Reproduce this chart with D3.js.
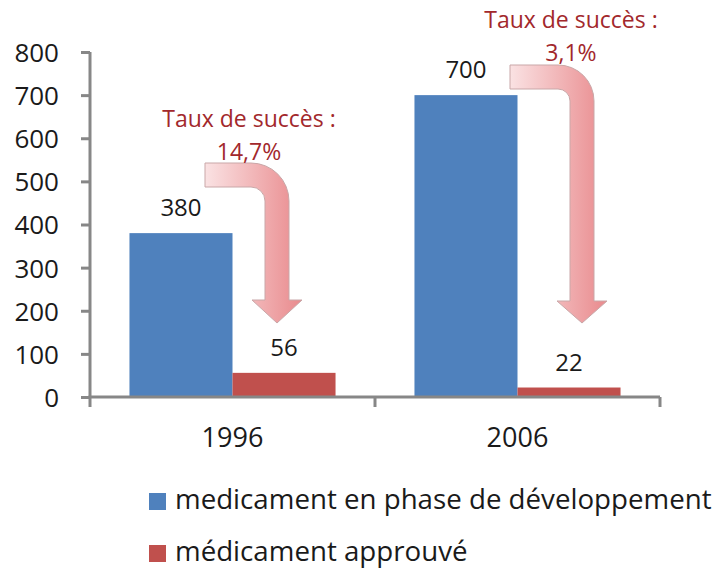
<!DOCTYPE html>
<html>
<head>
<meta charset="utf-8">
<script src="https://cdn.jsdelivr.net/npm/d3@7"></script>
<style>
  html, body { margin: 0; padding: 0; background: #fff; }
  svg { display: block; font-family: "Open Sans", "DejaVu Sans", sans-serif; }
</style>
</head>
<body>
<svg id="chart" width="716" height="569"></svg>
<script>
// Categories, series and values
const years = ["1996", "2006"];
const seriesNames = ["medicament en phase de développement", "médicament approuvé"];
const enDeveloppement = [380, 700];
const approuves = [56, 22];
const seriesColors = ["#4F81BD", "#C0504D"];
const yTicks = [0, 100, 200, 300, 400, 500, 600, 700, 800];
const tauxLabels = [["Taux de succès :", "14,7%"], ["Taux de succès :", "3,1%"]];

const svg = d3.select("#chart");

const x0 = d3.scaleBand().domain(years).range([90, 660]).paddingInner(0).paddingOuter(0);
const x1 = d3.scaleBand().domain([0, 1]).range([0, x0.bandwidth()]).paddingInner(0).paddingOuter(0.383);
const y = d3.scaleLinear().domain([0, 800]).range([397, 52]);

const rows = years.map((yr, i) => ({ year: yr, values: [enDeveloppement[i], approuves[i]] }));

// Bars
const groups = svg.append("g").selectAll("g").data(rows).join("g")
  .attr("transform", d => `translate(${x0(d.year)},0)`);

groups.selectAll("rect").data(d => d.values.map((v, k) => ({ v, k }))).join("rect")
  .attr("x", d => x1(d.k))
  .attr("y", d => y(d.v))
  .attr("width", x1.bandwidth())
  .attr("height", d => y(0) - y(d.v))
  .attr("fill", d => seriesColors[d.k]);

// Value labels
groups.selectAll("text.val").data(d => d.values.map((v, k) => ({ v, k }))).join("text")
  .attr("class", "val")
  .attr("x", d => x1(d.k) + x1.bandwidth() / 2)
  .attr("y", d => y(d.v) - 17)
  .attr("text-anchor", "middle")
  .attr("font-size", 24)
  .attr("fill", "#1a1a1a")
  .text(d => d.v);

// Y axis
const yAxis = svg.append("g")
  .attr("transform", "translate(90,0)")
  .call(d3.axisLeft(y).tickValues(yTicks).tickSize(9).tickPadding(22).tickFormat(d3.format("d")));
yAxis.select(".domain").attr("stroke", "#878787").attr("stroke-width", 3)
  .attr("d", `M0,${y(800)}V${y(0) + 1}`);
yAxis.selectAll(".tick line").attr("stroke", "#878787").attr("stroke-width", 3);
yAxis.selectAll(".tick text").attr("font-size", 26).attr("fill", "#1a1a1a")
  .attr("font-family", "Open Sans, sans-serif").attr("dy", "0.36em");

// X axis with boundary ticks between categories
const xAxis = svg.append("g").attr("transform", `translate(0,${y(0)})`);
xAxis.append("line")
  .attr("x1", x0.range()[0] - 1.5).attr("x2", x0.range()[1])
  .attr("stroke", "#878787").attr("stroke-width", 3);
const bounds = years.map(yr => x0(yr)).concat([x0.range()[1]]);
xAxis.selectAll("line.tk").data(bounds).join("line")
  .attr("class", "tk")
  .attr("x1", d => d).attr("x2", d => d)
  .attr("y1", 0).attr("y2", 10)
  .attr("stroke", "#878787").attr("stroke-width", 3);
xAxis.selectAll("text").data(years).join("text")
  .attr("x", d => x0(d) + x0.bandwidth() / 2)
  .attr("y", 50)
  .attr("text-anchor", "middle")
  .attr("font-size", 27)
  .attr("fill", "#1a1a1a")
  .text(d => d);

// Bent arrows showing the drop from candidates to approvals
const defs = svg.append("defs");
const grad = defs.append("linearGradient").attr("id", "arrowGrad")
  .attr("x1", "0%").attr("x2", "100%").attr("y1", "0%").attr("y2", "0%");
grad.append("stop").attr("offset", "0%").attr("stop-color", "#FAE2E3");
grad.append("stop").attr("offset", "100%").attr("stop-color", "#E98A8D");

function bentArrow(a) {
  const t = a.t, R = a.R, r = a.R - a.t;
  const L = a.xc - t / 2, Rt = a.xc + t / 2;
  const p = d3.path();
  p.moveTo(a.xs, a.yt);
  p.lineTo(Rt - R, a.yt);
  p.arcTo(Rt, a.yt, Rt, a.yt + R, R);
  p.lineTo(Rt, a.headTop);
  p.lineTo(a.xc + a.hw, a.headTop);
  p.lineTo(a.xc, a.tip);
  p.lineTo(a.xc - a.hw, a.headTop);
  p.lineTo(L, a.headTop);
  p.lineTo(L, a.yt + t + r);
  p.arcTo(L, a.yt + t, L - r, a.yt + t, r);
  p.lineTo(a.xs, a.yt + t);
  p.closePath();
  return p.toString();
}

const arrows = [
  { xs: 205, yt: 163, xc: 277, t: 24, R: 38, headTop: 300, hw: 25, tip: 323 },
  { xs: 510, yt: 65,  xc: 582, t: 24, R: 36, headTop: 301, hw: 25, tip: 323 }
];
svg.append("g").selectAll("path").data(arrows).join("path")
  .attr("d", bentArrow)
  .attr("fill", "url(#arrowGrad)")
  .attr("stroke", "#C9A7A8")
  .attr("stroke-width", 1);

// Success-rate annotations
const notes = [
  { cx: 249, y0: 127 },
  { cx: 571, y0: 28 }
];
notes.forEach((n, i) => {
  tauxLabels[i].forEach((line, j) => {
    svg.append("text")
      .attr("x", n.cx)
      .attr("y", n.y0 + j * 33)
      .attr("text-anchor", "middle")
      .attr("font-size", 23)
      .attr("fill", "#A2282C")
      .text(line);
  });
});

// Legend
const legend = svg.append("g").selectAll("g").data(seriesNames).join("g")
  .attr("transform", (d, i) => `translate(149,${493 + i * 52})`);
legend.append("rect").attr("width", 17).attr("height", 17)
  .attr("fill", (d, i) => seriesColors[i]);
legend.append("text")
  .attr("x", 26).attr("y", 16)
  .attr("font-size", 27.7)
  .attr("fill", "#1a1a1a")
  .text(d => d);
</script>
</body>
</html>
